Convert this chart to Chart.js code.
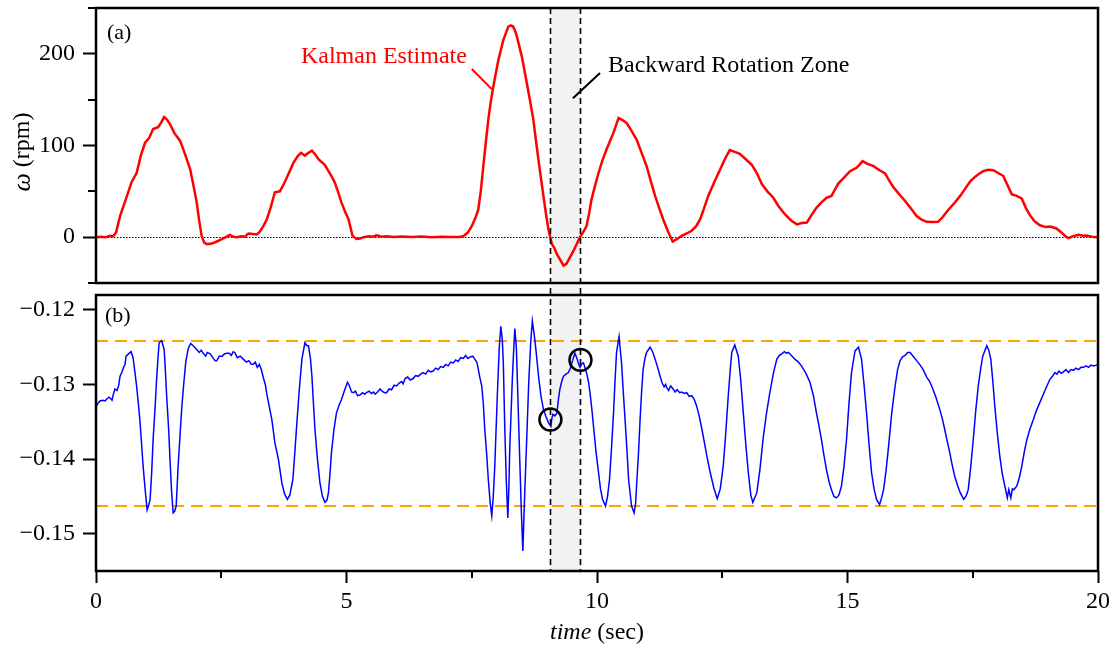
<!DOCTYPE html>
<html><head><meta charset="utf-8">
<script src="https://cdn.jsdelivr.net/npm/chart.js@4/dist/chart.umd.min.js"></script>
<style>
html,body{margin:0;padding:0;background:#fff;}
#wrap{position:relative;width:1117px;height:648px;overflow:hidden;}
#c1{position:absolute;left:0;top:0;width:1117px;height:289px;}
#c2{position:absolute;left:0;top:289px;width:1117px;height:359px;}
</style></head><body>
<div id="wrap"><canvas id="c1" width="1117" height="289"></canvas><canvas id="c2" width="1117" height="359"></canvas></div>
<script>
// ---------------- DATA ----------------
const tRed = [0.00,0.10,0.20,0.28,0.34,0.40,0.48,0.60,0.71,0.81,0.90,0.98,1.06,1.14,1.24,1.30,1.36,1.42,1.48,1.56,1.61,1.68,1.78,1.88,1.95,2.01,2.06,2.11,2.16,2.21,2.31,2.40,2.48,2.61,2.67,2.74,2.81,2.90,2.97,3.04,3.13,3.21,3.27,3.34,3.41,3.49,3.57,3.67,3.74,3.81,3.94,4.02,4.09,4.17,4.24,4.31,4.38,4.44,4.57,4.64,4.70,4.77,4.84,4.90,4.97,5.04,5.12,5.20,5.27,5.34,5.45,5.52,5.60,5.70,5.80,5.95,6.10,6.30,6.50,6.70,6.90,7.10,7.25,7.33,7.42,7.50,7.58,7.63,7.68,7.73,7.78,7.83,7.88,7.93,8.03,8.13,8.23,8.28,8.32,8.36,8.40,8.50,8.60,8.66,8.73,8.78,8.83,8.88,8.93,8.98,9.03,9.10,9.15,9.20,9.27,9.33,9.39,9.46,9.53,9.60,9.66,9.72,9.79,9.84,9.89,9.96,10.03,10.11,10.19,10.26,10.33,10.38,10.43,10.50,10.59,10.69,10.79,10.89,10.99,11.08,11.16,11.24,11.32,11.42,11.51,11.60,11.69,11.79,11.89,11.98,12.06,12.14,12.22,12.34,12.46,12.55,12.65,12.75,12.85,12.97,13.09,13.19,13.29,13.40,13.52,13.62,13.75,13.88,13.99,14.09,14.19,14.28,14.38,14.48,14.58,14.68,14.75,14.82,14.93,15.05,15.18,15.24,15.30,15.40,15.52,15.64,15.75,15.83,15.91,16.03,16.15,16.27,16.38,16.48,16.58,16.70,16.81,16.90,17.01,17.13,17.25,17.35,17.45,17.55,17.62,17.71,17.81,17.91,18.01,18.11,18.20,18.28,18.38,18.48,18.56,18.64,18.74,18.84,18.96,19.05,19.11,19.17,19.25,19.35,19.41,19.50,19.61,19.70,19.77,19.88,19.97,20.00];
const wRed = [0,0.5,0,1.5,1,5,23,42,60,70,90,103,108,118,120,125,131,128,123,114,110,105,90,74,55,38,18,1,-6,-7.6,-7,-5,-3,0.7,2.5,0.5,0,1,0.5,4,3.5,3,6,12,19.6,33,49,50,57,65,81,88,92,89,92,94.5,90,85,78.6,72,66.7,59,48,37.7,28,19.6,1.4,-2,-1.5,0,1,0.5,2,0.5,1,0.3,0.8,0.2,0.6,0,0.5,0.3,0.2,1,5,12,22,30,50,77,103,128,148,164,193,215,229.7,231,230,226,219,197,168,150,128,106,85,65,45,26,8.7,-7.6,-12,-18.5,-25,-31,-29,-22,-15,-7,0,5,12,25,41,56,70,84,95.7,105,114,122,130,128,124.7,116,106.5,92,77.5,60,45,32,19.6,6,-4.7,-2,1.4,4,7,12,19.6,32,45,60,74,85,95,93,91,85,79,70,58,50,43,34,25,18,14,15.5,16,24,32,38,43,45,52,58.7,65,72,75.7,79,83,80,77.5,73,69.6,62,55,47,39.5,31,23,19,16.7,16.5,16.7,22,29.7,37,45,53,61,66,69,72,73.5,73,70,66.7,56,46.7,45,42,32,24,17,13,11,11.5,10.5,9.5,6,1,-1,1,2.5,1.5,1.8,0.5,0,0.3];

const tBlue = [0.00,0.04,0.08,0.14,0.18,0.22,0.26,0.28,0.32,0.35,0.38,0.42,0.45,0.48,0.52,0.55,0.58,0.60,0.65,0.70,0.74,0.78,0.81,0.84,0.88,0.91,0.94,0.98,1.02,1.05,1.08,1.11,1.14,1.18,1.21,1.24,1.26,1.31,1.36,1.38,1.41,1.45,1.48,1.51,1.54,1.57,1.60,1.64,1.68,1.71,1.75,1.79,1.84,1.89,1.94,2.01,2.06,2.10,2.14,2.19,2.22,2.28,2.34,2.38,2.41,2.46,2.52,2.56,2.61,2.66,2.70,2.74,2.77,2.82,2.88,2.94,3.00,3.05,3.10,3.14,3.18,3.22,3.26,3.30,3.34,3.38,3.41,3.46,3.51,3.57,3.64,3.71,3.76,3.82,3.87,3.93,3.97,4.01,4.06,4.11,4.17,4.21,4.24,4.28,4.31,4.34,4.37,4.42,4.47,4.52,4.57,4.61,4.64,4.67,4.70,4.75,4.80,4.85,4.90,4.96,5.02,5.06,5.10,5.14,5.18,5.22,5.27,5.32,5.36,5.40,5.45,5.50,5.54,5.57,5.62,5.67,5.71,5.76,5.80,5.85,5.90,5.95,6.00,6.05,6.10,6.13,6.17,6.22,6.27,6.33,6.38,6.43,6.48,6.53,6.58,6.63,6.68,6.73,6.78,6.83,6.88,6.93,6.98,7.03,7.08,7.13,7.18,7.23,7.28,7.33,7.38,7.42,7.47,7.52,7.56,7.60,7.63,7.66,7.70,7.73,7.76,7.80,7.83,7.87,7.90,7.93,7.96,8.01,8.05,8.08,8.11,8.13,8.16,8.19,8.22,8.24,8.26,8.31,8.34,8.36,8.39,8.41,8.46,8.49,8.52,8.55,8.58,8.64,8.68,8.71,8.75,8.78,8.84,8.88,8.93,8.98,9.03,9.08,9.10,9.12,9.16,9.20,9.23,9.26,9.30,9.33,9.38,9.43,9.47,9.50,9.53,9.56,9.60,9.63,9.66,9.70,9.73,9.79,9.83,9.86,9.90,9.93,9.98,10.03,10.07,10.11,10.17,10.21,10.25,10.29,10.33,10.36,10.39,10.44,10.46,10.49,10.52,10.56,10.60,10.63,10.69,10.74,10.77,10.79,10.83,10.86,10.89,10.92,10.96,10.99,11.06,11.11,11.16,11.21,11.26,11.30,11.34,11.37,11.39,11.43,11.47,11.52,11.56,11.60,11.65,11.69,11.74,11.79,11.84,11.89,11.94,11.99,12.05,12.12,12.19,12.26,12.33,12.40,12.46,12.52,12.57,12.62,12.66,12.69,12.75,12.82,12.87,12.92,12.97,13.02,13.07,13.11,13.19,13.25,13.32,13.38,13.45,13.52,13.59,13.64,13.69,13.74,13.78,13.82,13.88,13.95,14.02,14.09,14.17,14.25,14.32,14.38,14.43,14.48,14.53,14.58,14.63,14.68,14.73,14.78,14.83,14.88,14.93,14.98,15.03,15.08,15.15,15.22,15.28,15.33,15.38,15.43,15.48,15.53,15.58,15.64,15.68,15.72,15.77,15.82,15.88,15.95,16.00,16.05,16.10,16.15,16.20,16.25,16.31,16.38,16.45,16.51,16.58,16.64,16.68,16.76,16.84,16.89,16.94,16.99,17.04,17.09,17.14,17.20,17.25,17.32,17.37,17.41,17.46,17.51,17.56,17.61,17.66,17.70,17.78,17.82,17.86,17.90,17.94,17.99,18.04,18.09,18.14,18.19,18.22,18.26,18.29,18.32,18.38,18.43,18.48,18.53,18.58,18.64,18.71,18.77,18.84,18.91,18.98,19.04,19.09,19.14,19.18,19.22,19.27,19.31,19.36,19.41,19.46,19.51,19.56,19.61,19.66,19.71,19.76,19.81,19.86,19.91,19.97,20.00];
const vBlue = [-0.1330,-0.1325,-0.1322,-0.1321,-0.1322,-0.1319,-0.1317,-0.1318,-0.1321,-0.1312,-0.1306,-0.1308,-0.1302,-0.1289,-0.1283,-0.1277,-0.1273,-0.1262,-0.1259,-0.1256,-0.1264,-0.1285,-0.1302,-0.1322,-0.1351,-0.1380,-0.1409,-0.1440,-0.1468,-0.1462,-0.1454,-0.1420,-0.1374,-0.1330,-0.1293,-0.1262,-0.1244,-0.1241,-0.1253,-0.1275,-0.1315,-0.1360,-0.1405,-0.1445,-0.1472,-0.1470,-0.1463,-0.1409,-0.1365,-0.1333,-0.1300,-0.1271,-0.1252,-0.1245,-0.1248,-0.1253,-0.1257,-0.1254,-0.1258,-0.1262,-0.1257,-0.1259,-0.1265,-0.1268,-0.1268,-0.1262,-0.1262,-0.1259,-0.1258,-0.1258,-0.1261,-0.1256,-0.1257,-0.1264,-0.1262,-0.1266,-0.1270,-0.1268,-0.1273,-0.1273,-0.1270,-0.1277,-0.1273,-0.1280,-0.1291,-0.1300,-0.1313,-0.1330,-0.1347,-0.1378,-0.1400,-0.1432,-0.1446,-0.1454,-0.1448,-0.1427,-0.1390,-0.1351,-0.1305,-0.1266,-0.1244,-0.1248,-0.1248,-0.1265,-0.1289,-0.1325,-0.1360,-0.1400,-0.1432,-0.1450,-0.1458,-0.1455,-0.1445,-0.1420,-0.1391,-0.1360,-0.1338,-0.1328,-0.1320,-0.1308,-0.1297,-0.1302,-0.1310,-0.1311,-0.1309,-0.1315,-0.1314,-0.1311,-0.1313,-0.1311,-0.1309,-0.1312,-0.1310,-0.1313,-0.1310,-0.1306,-0.1309,-0.1311,-0.1311,-0.1306,-0.1307,-0.1301,-0.1302,-0.1298,-0.1296,-0.1299,-0.1292,-0.1290,-0.1294,-0.1292,-0.1288,-0.1289,-0.1286,-0.1284,-0.1286,-0.1281,-0.1283,-0.1282,-0.1278,-0.1280,-0.1276,-0.1277,-0.1273,-0.1275,-0.1270,-0.1271,-0.1267,-0.1269,-0.1264,-0.1265,-0.1261,-0.1265,-0.1263,-0.1262,-0.1266,-0.1270,-0.1279,-0.1290,-0.1302,-0.1325,-0.1360,-0.1395,-0.1427,-0.1460,-0.1476,-0.1450,-0.1409,-0.1315,-0.1250,-0.1222,-0.1240,-0.1271,-0.1360,-0.1430,-0.1479,-0.1440,-0.1383,-0.1293,-0.1250,-0.1225,-0.1250,-0.1293,-0.1405,-0.1470,-0.1523,-0.1460,-0.1405,-0.1293,-0.1240,-0.1215,-0.1235,-0.1253,-0.1293,-0.1315,-0.1333,-0.1343,-0.1351,-0.1356,-0.1345,-0.1340,-0.1342,-0.1338,-0.1320,-0.1306,-0.1295,-0.1289,-0.1286,-0.1284,-0.1278,-0.1271,-0.1264,-0.1258,-0.1265,-0.1272,-0.1277,-0.1272,-0.1271,-0.1284,-0.1296,-0.1311,-0.1335,-0.1356,-0.1390,-0.1418,-0.1440,-0.1454,-0.1463,-0.1450,-0.1427,-0.1385,-0.1338,-0.1295,-0.1257,-0.1236,-0.1250,-0.1271,-0.1305,-0.1347,-0.1390,-0.1427,-0.1463,-0.1472,-0.1460,-0.1436,-0.1390,-0.1347,-0.1310,-0.1280,-0.1264,-0.1257,-0.1250,-0.1256,-0.1266,-0.1277,-0.1289,-0.1298,-0.1303,-0.1300,-0.1304,-0.1308,-0.1302,-0.1306,-0.1310,-0.1307,-0.1311,-0.1310,-0.1312,-0.1311,-0.1316,-0.1315,-0.1320,-0.1329,-0.1345,-0.1369,-0.1395,-0.1418,-0.1438,-0.1453,-0.1440,-0.1409,-0.1365,-0.1315,-0.1280,-0.1257,-0.1247,-0.1262,-0.1295,-0.1338,-0.1380,-0.1418,-0.1448,-0.1458,-0.1445,-0.1415,-0.1370,-0.1340,-0.1311,-0.1285,-0.1266,-0.1261,-0.1259,-0.1256,-0.1258,-0.1257,-0.1261,-0.1266,-0.1270,-0.1276,-0.1285,-0.1297,-0.1315,-0.1338,-0.1355,-0.1374,-0.1395,-0.1414,-0.1430,-0.1441,-0.1450,-0.1452,-0.1448,-0.1436,-0.1410,-0.1374,-0.1325,-0.1284,-0.1255,-0.1250,-0.1266,-0.1300,-0.1338,-0.1380,-0.1418,-0.1440,-0.1454,-0.1461,-0.1452,-0.1441,-0.1415,-0.1383,-0.1340,-0.1302,-0.1280,-0.1268,-0.1263,-0.1261,-0.1257,-0.1257,-0.1262,-0.1268,-0.1274,-0.1280,-0.1290,-0.1296,-0.1302,-0.1316,-0.1333,-0.1345,-0.1360,-0.1376,-0.1391,-0.1408,-0.1423,-0.1436,-0.1445,-0.1454,-0.1449,-0.1441,-0.1410,-0.1374,-0.1335,-0.1302,-0.1278,-0.1262,-0.1248,-0.1254,-0.1266,-0.1295,-0.1329,-0.1365,-0.1396,-0.1420,-0.1436,-0.1452,-0.1441,-0.1452,-0.1440,-0.1441,-0.1436,-0.1425,-0.1409,-0.1390,-0.1374,-0.1360,-0.1347,-0.1335,-0.1324,-0.1313,-0.1302,-0.1293,-0.1289,-0.1284,-0.1286,-0.1282,-0.1285,-0.1283,-0.1280,-0.1284,-0.1280,-0.1281,-0.1278,-0.1280,-0.1277,-0.1277,-0.1275,-0.1277,-0.1274,-0.1275,-0.1274,-0.1273];

const circleT = [9.07, 9.67];
const circleV = [-0.1347, -0.1267];
const zoneT = [9.07, 9.67];
const limitV = [-0.1241, -0.1463];

const xMajorTicks = [0, 5, 10, 15, 20];
const xMinorTicks = [2.5, 7.5, 12.5, 17.5];
const xTickLabels = ['0', '5', '10', '15', '20'];
const yTopMajorTicks = [0, 100, 200];
const yTopMinorTicks = [-50, 50, 150, 250];
const yTopTickLabels = ['0', '100', '200'];
const yBotTicks = [-0.15, -0.14, -0.13, -0.12];
const yBotTickLabels = ['\u22120.15', '\u22120.14', '\u22120.13', '\u22120.12'];

// ---------------- STYLE ----------------
const FONT = "'Liberation Serif','Times New Roman',serif";
Chart.defaults.font.family = FONT;
Chart.defaults.font.size = 24;
Chart.defaults.color = '#000';

function frame(ctx, a) {
  ctx.save();
  ctx.strokeStyle = '#000'; ctx.lineWidth = 2.5; ctx.setLineDash([]);
  ctx.strokeRect(a.left, a.top, a.right - a.left, a.bottom - a.top);
  ctx.restore();
}
function zoneBand(chart, y1, y2) {
  const {ctx, scales: {x}} = chart;
  const x1 = x.getPixelForValue(zoneT[0]), x2 = x.getPixelForValue(zoneT[1]);
  ctx.save(); ctx.fillStyle = '#f2f2f2'; ctx.fillRect(x1, y1, x2 - x1, y2 - y1); ctx.restore();
}
function zoneLines(chart, y1, y2) {
  const {ctx, scales: {x}} = chart;
  ctx.save(); ctx.strokeStyle = '#000'; ctx.lineWidth = 1.6; ctx.setLineDash([6, 4]);
  zoneT.forEach(t => {
    const px = Math.round(x.getPixelForValue(t)) + 0.5;
    ctx.beginPath(); ctx.moveTo(px, y1); ctx.lineTo(px, y2); ctx.stroke();
  });
  ctx.restore();
}
function mixedText(ctx, parts, cx, cy) {
  let total = 0;
  parts.forEach(p => { ctx.font = p.f; p.w = ctx.measureText(p.s).width; total += p.w; });
  let sx = cx - total / 2;
  ctx.textAlign = 'left'; ctx.textBaseline = 'middle';
  parts.forEach(p => { ctx.font = p.f; ctx.fillText(p.s, sx, cy); sx += p.w; });
}
function fixY(s) { s.width = 96; s.paddingTop = 0; s.paddingBottom = 0; }

const topDeco = {
  id: 'topDeco',
  beforeDatasetsDraw(chart) {
    const {ctx, chartArea: a, scales: {y}} = chart;
    zoneBand(chart, a.top, chart.height);
    const y0 = Math.round(y.getPixelForValue(0)) + 0.5;
    ctx.save(); ctx.strokeStyle = '#000'; ctx.lineWidth = 1.2; ctx.setLineDash([1.5, 1.5]);
    ctx.beginPath(); ctx.moveTo(a.left, y0); ctx.lineTo(a.right, y0); ctx.stroke(); ctx.restore();
  },
  afterDatasetsDraw(chart) {
    const {ctx, chartArea: a, scales: {x, y}} = chart;
    zoneLines(chart, a.top, chart.height);
    frame(ctx, a);
    ctx.save(); ctx.strokeStyle = '#000'; ctx.lineWidth = 2;
    yTopMinorTicks.forEach(v => {
      const py = Math.round(y.getPixelForValue(v));
      ctx.beginPath(); ctx.moveTo(a.left - 8, py); ctx.lineTo(a.left, py); ctx.stroke();
    });
    // annotations
    ctx.fillStyle = '#000'; ctx.font = '22px ' + FONT; ctx.textAlign = 'left'; ctx.textBaseline = 'middle';
    ctx.fillText('(a)', x.getPixelForValue(0.22), y.getPixelForValue(223));
    ctx.textBaseline = 'alphabetic'; ctx.font = '24px ' + FONT;
    ctx.fillStyle = '#ff0000';
    ctx.fillText('Kalman Estimate', x.getPixelForValue(4.09), y.getPixelForValue(190));
    ctx.strokeStyle = '#ff0000'; ctx.lineWidth = 2;
    ctx.beginPath(); ctx.moveTo(x.getPixelForValue(7.50), y.getPixelForValue(183.5));
    ctx.lineTo(x.getPixelForValue(7.90), y.getPixelForValue(161.5)); ctx.stroke();
    ctx.fillStyle = '#000';
    ctx.fillText('Backward Rotation Zone', x.getPixelForValue(10.22), y.getPixelForValue(180.4));
    ctx.strokeStyle = '#000';
    ctx.beginPath(); ctx.moveTo(x.getPixelForValue(10.06), y.getPixelForValue(179));
    ctx.lineTo(x.getPixelForValue(9.52), y.getPixelForValue(151.5)); ctx.stroke();
    // axis title
    ctx.translate(23, 152); ctx.rotate(-Math.PI / 2); ctx.fillStyle = '#000';
    mixedText(ctx, [{s: '\u03C9', f: 'italic 26px ' + FONT}, {s: ' (rpm)', f: '24px ' + FONT}], 0, 0);
    ctx.restore();
  }
};

const botDeco = {
  id: 'botDeco',
  beforeDatasetsDraw(chart) {
    const {ctx, chartArea: a, scales: {y}} = chart;
    zoneBand(chart, 0, a.bottom + 2);
    ctx.save(); ctx.strokeStyle = '#ffa500'; ctx.lineWidth = 2; ctx.setLineDash([12, 7]);
    limitV.forEach(v => {
      const py = Math.round(y.getPixelForValue(v));
      ctx.beginPath(); ctx.moveTo(a.left, py); ctx.lineTo(a.right, py); ctx.stroke();
    });
    ctx.restore();
  },
  afterDatasetsDraw(chart) {
    const {ctx, chartArea: a, scales: {x, y}} = chart;
    zoneLines(chart, 0, a.bottom);
    frame(ctx, a);
    ctx.save(); ctx.strokeStyle = '#000'; ctx.lineWidth = 2;
    xMinorTicks.forEach(v => {
      const px = Math.round(x.getPixelForValue(v));
      ctx.beginPath(); ctx.moveTo(px, a.bottom); ctx.lineTo(px, a.bottom + 7); ctx.stroke();
    });
    ctx.fillStyle = '#000'; ctx.font = '22px ' + FONT; ctx.textAlign = 'left'; ctx.textBaseline = 'middle';
    ctx.fillText('(b)', x.getPixelForValue(0.18), y.getPixelForValue(-0.1208));
    mixedText(ctx, [{s: 'time', f: 'italic 24px ' + FONT}, {s: ' (sec)', f: '24px ' + FONT}], (a.left + a.right) / 2, 344);
    ctx.restore();
  }
};

const commonTickGrid = (len) => ({drawOnChartArea: false, drawTicks: true, tickLength: len, tickWidth: 2, tickColor: '#000'});

new Chart(document.getElementById('c1'), {
  type: 'line',
  data: {datasets: [{
    data: tRed.map((t, i) => ({x: t, y: wRed[i]})),
    borderColor: '#ff0000', borderWidth: 2.5, pointRadius: 0, tension: 0, fill: false
  }]},
  options: {
    responsive: false, animation: false, events: [],
    layout: {autoPadding: false, padding: {left: 0, right: 19, top: 8, bottom: 6}},
    plugins: {legend: {display: false}, tooltip: {enabled: false}},
    scales: {
      x: {type: 'linear', min: 0, max: 20, display: false},
      y: {
        type: 'linear', min: -50, max: 250,
        afterBuildTicks: s => { s.ticks = yTopMajorTicks.map(v => ({value: v})); },
        afterFit: fixY,
        grid: commonTickGrid(13), border: {display: false},
        ticks: {padding: 8, callback: (v, i) => yTopTickLabels[i]}
      }
    }
  },
  plugins: [topDeco]
});

new Chart(document.getElementById('c2'), {
  type: 'line',
  data: {datasets: [
    {data: circleT.map((t, i) => ({x: t, y: circleV[i]})), showLine: false, pointRadius: 11,
     pointBorderWidth: 2.5, pointBorderColor: '#000', pointBackgroundColor: 'rgba(0,0,0,0)', borderColor: '#000', order: 0},
    {data: tBlue.map((t, i) => ({x: t, y: vBlue[i]})), borderColor: '#0000ff', borderWidth: 1.5,
     pointRadius: 0, tension: 0, fill: false, order: 1}
  ]},
  options: {
    responsive: false, animation: false, events: [],
    layout: {autoPadding: false, padding: {left: 0, right: 19, top: 6, bottom: 0}},
    plugins: {legend: {display: false}, tooltip: {enabled: false}},
    scales: {
      x: {
        type: 'linear', min: 0, max: 20,
        afterBuildTicks: s => { s.ticks = xMajorTicks.map(v => ({value: v})); },
        afterFit: s => { s.height = 77; },
        grid: commonTickGrid(12), border: {display: false},
        ticks: {padding: 4, autoSkip: false, maxRotation: 0, callback: (v, i) => xTickLabels[i]}
      },
      y: {
        type: 'linear', min: -0.155, max: -0.118,
        afterBuildTicks: s => { s.ticks = yBotTicks.map(v => ({value: v})); },
        afterFit: fixY,
        grid: commonTickGrid(13), border: {display: false},
        ticks: {padding: 8, callback: (v, i) => yBotTickLabels[i]}
      }
    }
  },
  plugins: [botDeco]
});
</script>
</body></html>
